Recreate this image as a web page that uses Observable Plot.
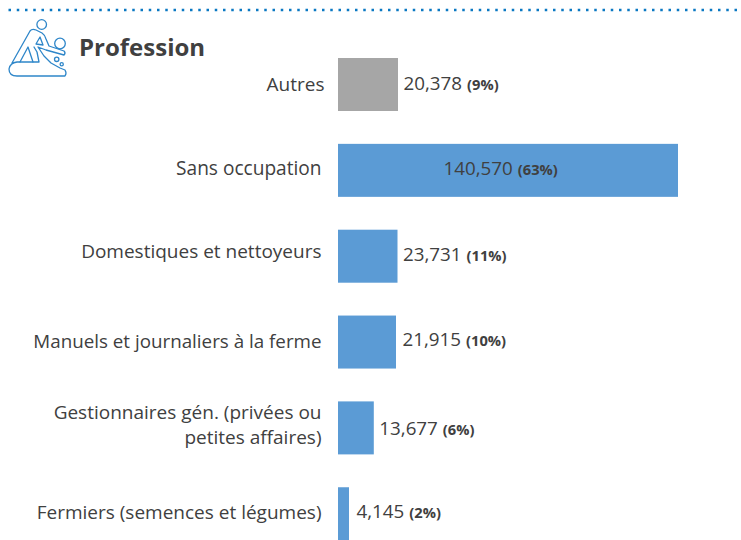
<!DOCTYPE html>
<html>
<head>
<meta charset="utf-8">
<script src="https://cdn.jsdelivr.net/npm/d3@7"></script>
<script src="https://cdn.jsdelivr.net/npm/@observablehq/plot@0.6"></script>
<style>
html,body{margin:0;padding:0;background:#fff;}
#wrap{position:relative;width:741px;height:540px;overflow:hidden;font-family:"Open Sans",sans-serif;color:#404040;}
#title{position:absolute;left:79px;top:31px;font-size:24px;font-weight:700;line-height:32px;}
#deco{position:absolute;left:0;top:0;}
#chart svg{display:block;}
</style>
</head>
<body>
<div id="wrap">
<div id="chart"></div>
<svg id="deco" width="741" height="90" viewBox="0 0 741 90" fill="none" stroke="#2e86c9" stroke-width="1.3" stroke-linejoin="round" stroke-linecap="round">
<line x1="8.500" y1="10" x2="741" y2="10" stroke="#0a78c2" stroke-width="2.500" stroke-dasharray="2.500 5.750" stroke-linecap="butt"/>
<circle cx="41.7" cy="24.5" r="4.8"/>
<circle cx="60" cy="43.5" r="5.3"/>
<circle cx="56.7" cy="59.3" r="2.2"/>
<circle cx="61.7" cy="64.3" r="1.6"/>
<path d="M12 63 L30 31 Q32 28.500 36 30 L42 33 Q45 35 46 39 L49 46 L64 51 Q66 53 64 55 L46 50 L38 47 M38 47 L44 56 L51 63 L60 68 L65 70 Q67 73 65 76 L17 76 Q9 76 9 69 Q10 63 17 62 L39 62 L37 52 L34 47"/>
<path d="M20 62 L28 47 L33 62"/>
<path d="M40 37 L36 44 L43 45 Z"/>
</svg>
<div id="title">Profession</div>
</div>
<script>
const categories = ["Autres","Sans occupation","Domestiques et nettoyeurs","Manuels et journaliers à la ferme","Gestionnaires gén. (privées ou\npetites affaires)","Fermiers (semences et légumes)"];
const counts = [20378,140570,23731,21915,13677,4145];
const shares = ["9%","63%","11%","10%","6%","2%"];
const kinds = ["other","main","main","main","main","main"];
// Bars in the picture are not strictly proportional to the printed counts; these are the drawn lengths, on the scale of the longest bar.
const drawnLengths = [24806,140570,24600,23980,14800,4548];
const rows = categories.map((c,i)=>({category:c,count:counts[i],share:shares[i],kind:kinds[i],drawn:drawnLengths[i]}));
const fmt = d3.format(",");
const ink = "#404040";
const textSize = 18.8;
const catSize = [19,19.1,19,18.8,19,19];
const catNudge = [[3,-2],[0,-4],[0,-7],[0,-3],[0,-5],[0,-3]];
const valNudge = [[0,-1],[0,-2],[0,-2],[1,-3],[0,1],[2,-2]];

function withShare(r){
  return function(index,scales,values,dims,ctx,next){
    const g = next(index,scales,values,dims,ctx);
    d3.select(g).selectAll("text").append("tspan").attr("dx","5").attr("font-size","14.7px").attr("font-weight","700").text("("+r.share+")");
    return g;
  };
}
const plot = Plot.plot({
  width:741,height:540,margin:0,
  style:{fontFamily:'"Open Sans",sans-serif',background:"#fff"},
  x:{domain:[0,140570],range:[338,678],axis:null},
  y:{domain:categories,range:[25.15,573.1],padding:0.3827,round:false,axis:null},
  color:{domain:["other","main"],range:["#a6a6a6","#5b9bd5"]},
  marks:[
    Plot.barX(rows,{x:"drawn",y:"category",fill:"kind"}),
    ...rows.map((r,i)=>Plot.text([r],{x:0,y:"category",text:"category",textAnchor:"end",dx:-17+catNudge[i][0],dy:catNudge[i][1],fontSize:catSize[i],fill:ink,lineHeight:1.32})),
    ...rows.map((r,i)=>r.count===140570
      ? Plot.text([r],{x:"drawn",y:"category",text:d=>fmt(d.count),textAnchor:"start",dx:-235,dy:valNudge[i][1],fontSize:textSize,fill:ink,render:withShare(r)})
      : Plot.text([r],{x:"drawn",y:"category",text:d=>fmt(d.count),textAnchor:"start",dx:5+valNudge[i][0],dy:valNudge[i][1],fontSize:textSize,fill:ink,render:withShare(r)}))
  ]
});
document.getElementById("chart").appendChild(plot);
</script>
</body>
</html>
